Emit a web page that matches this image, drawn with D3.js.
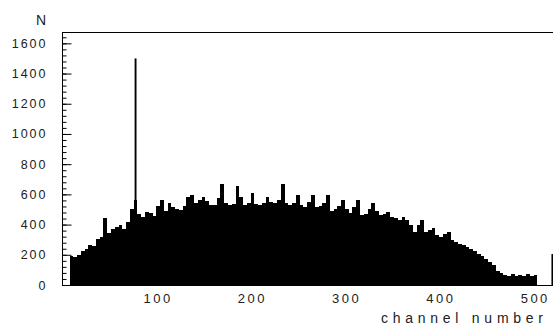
<!DOCTYPE html>
<html>
<head>
<meta charset="utf-8">
<script src="https://cdn.jsdelivr.net/npm/d3@7"></script>
<style>
  body { margin: 0; background: #fff; }
  text { font-family: "Liberation Sans", Arial, sans-serif; fill: #222; }
</style>
</head>
<body>
<div id="chart"></div>
<script>
// histogram contents, 4 channels per bin starting at channel 0
var binWidth = 4;
var counts = [
  0, 0, 192, 185, 200, 225, 240, 262, 258, 305,
  320, 445, 345, 372, 385, 395, 368, 420, 500, 560,
  470, 450, 484, 478, 455, 520, 565, 490, 540, 515,
  505, 498, 525, 583, 595, 545, 560, 580, 555, 530,
  528, 575, 668, 540, 528, 535, 654, 583, 530, 540,
  610, 535, 528, 545, 583, 548, 541, 560, 668, 540,
  528, 545, 595, 530, 517, 550, 595, 517, 525, 545,
  595, 490, 500, 520, 561, 500, 475, 515, 561, 465,
  470, 500, 541, 490, 462, 470, 484, 450, 442, 430,
  450, 430, 400, 351, 395, 428, 351, 365, 375, 330,
  318, 335, 351, 296, 285, 274, 262, 250, 240, 225,
  207, 195, 174, 155, 130, 95, 80, 65, 60, 70,
  58, 66, 62, 72, 60, 68, 0, 0, 0, 0
];

// narrow single lines drawn on top
var spikeChannels = [77, 519];
var spikeCounts = [1500, 205];

var xTicks = [100, 200, 300, 400, 500];
var yTicks = [0, 200, 400, 600, 800, 1000, 1200, 1400, 1600];

// plot area edges
var margin = {left: 62, top: 32, bottom: 285, right: 553};
var W = 553, H = 325;

var svg = d3.select("#chart")
  .append("svg")
  .attr("width", W)
  .attr("height", H);

var x = d3.scaleLinear()
  .domain([0, 520])
  .range([margin.left, 552.4]);

var y = d3.scaleLinear()
  .domain([0, 1675])
  .range([margin.bottom, margin.top]);

// histogram as a filled step curve
var pts = counts.map(function(v, i) { return {c: i * binWidth, v: v}; });
pts.push({c: counts.length * binWidth, v: 0});

var area = d3.area()
  .x(function(d) { return x(d.c); })
  .y0(y(0))
  .y1(function(d) { return y(d.v); })
  .curve(d3.curveStepAfter);

svg.append("path")
  .datum(pts)
  .attr("d", area)
  .attr("fill", "#000")
  .attr("shape-rendering", "crispEdges");

svg.selectAll("rect.spike")
  .data(spikeChannels)
  .enter()
  .append("rect")
  .attr("class", "spike")
  .attr("x", function(d) { return x(d); })
  .attr("width", function(d) { return x(d + 2) - x(d); })
  .attr("y", function(d, i) { return y(spikeCounts[i]); })
  .attr("height", function(d, i) { return y(0) - y(spikeCounts[i]); })
  .attr("fill", "#000");

// frame lines
svg.append("line")
  .attr("x1", margin.left).attr("x2", margin.right)
  .attr("y1", margin.top + 0.5).attr("y2", margin.top + 0.5)
  .attr("stroke", "#000");
svg.append("line")
  .attr("x1", margin.left).attr("x2", margin.right)
  .attr("y1", margin.bottom + 0.5).attr("y2", margin.bottom + 0.5)
  .attr("stroke", "#000");

// left axis: minor ticks
svg.append("g")
  .attr("transform", "translate(" + (margin.left + 0.5) + ",0)")
  .call(d3.axisLeft(y).tickValues(d3.range(0, 1675, 40)).tickSize(-4).tickFormat(""))
  .call(function(g) { g.select(".domain").remove(); });

// left axis: major ticks and labels
var yAxis = svg.append("g")
  .attr("transform", "translate(" + (margin.left + 0.5) + ",0)")
  .call(d3.axisLeft(y).tickValues(yTicks).tickFormat(d3.format("d"))
    .tickSize(-9).tickSizeOuter(0).tickPadding(15));
yAxis.select(".domain").attr("d", "M0," + margin.top + "V" + (margin.bottom + 1));
yAxis.selectAll("text")
  .style("font-size", "12.5px")
  .style("letter-spacing", "2px")
  .attr("fill", "#222");

// bottom axis labels (ticks hidden under the histogram)
var xAxis = svg.append("g")
  .attr("transform", "translate(0," + (margin.bottom + 0.5) + ")")
  .call(d3.axisBottom(x).tickValues(xTicks).tickSize(-8).tickPadding(8));
xAxis.select(".domain").remove();
xAxis.selectAll("text")
  .style("font-size", "13px")
  .style("letter-spacing", "2.5px")
  .attr("dx", "1.2px")
  .attr("fill", "#222");

// axis titles
svg.append("text")
  .attr("x", 41)
  .attr("y", 25)
  .attr("text-anchor", "middle")
  .style("font-size", "14px")
  .text("N");

svg.append("text")
  .attr("x", 381)
  .attr("y", 323)
  .attr("textLength", 162)
  .attr("lengthAdjust", "spacing")
  .style("font-size", "14px")
  .text("channel number");
</script>
</body>
</html>
